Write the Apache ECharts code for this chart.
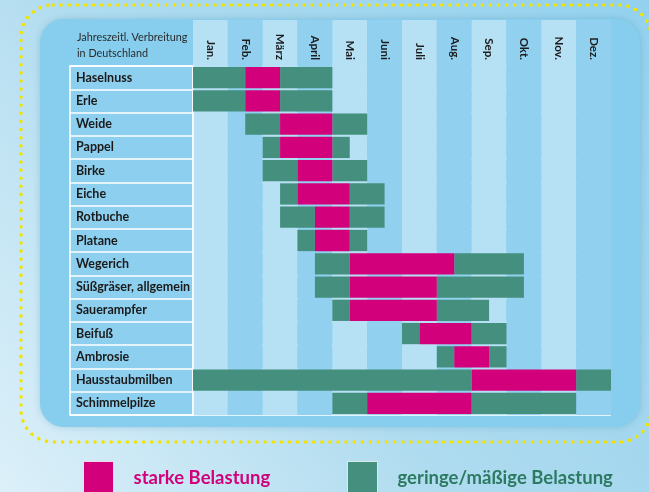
<!DOCTYPE html>
<html>
<head>
<meta charset="utf-8">
<script src="https://cdn.jsdelivr.net/npm/echarts@6/dist/echarts.min.js"></script>
<style>
  html, body { margin: 0; padding: 0; }
  #chart { width: 649px; height: 492px; }
</style>
</head>
<body>
<div id="chart"></div>
<script>
  const months = ['Jan.', 'Feb.', 'März', 'April', 'Mai', 'Juni', 'Juli', 'Aug.', 'Sep.', 'Okt.', 'Nov.', 'Dez.']
  const plants = ['Haselnuss', 'Erle', 'Weide', 'Pappel', 'Birke', 'Eiche', 'Rotbuche', 'Platane', 'Wegerich',
    'Süßgräser, allgemein', 'Sauerampfer', 'Beifuß', 'Ambrosie', 'Hausstaubmilben', 'Schimmelpilze']
  // Halbmonate: 0 = Anfang Jan., 24 = Ende Dez.
  const mildStart = [0, 0, 3, 4, 4, 5, 5, 6, 7, 7, 8, 12, 14, 0, 8]
  const strongStart = [3, 3, 5, 5, 6, 6, 7, 7, 9, 9, 9, 13, 15, 16, 10]
  const strongEnd = [5, 5, 8, 8, 8, 9, 9, 9, 15, 14, 14, 16, 17, 22, 16]
  const mildEnd = [8, 8, 10, 9, 10, 11, 11, 10, 19, 19, 17, 18, 18, 24, 22]

  const PINK = '#d2007b'
  const GREEN = '#458f7e'
  const FONT = 'Lato'
  const bands = ['#b6e1f5', '#91d1ef']

  const mildData = []
  const strongData = []
  plants.forEach(function (p, i) {
    if (strongStart[i] > mildStart[i]) mildData.push([i, mildStart[i], strongStart[i]])
    if (mildEnd[i] > strongEnd[i]) mildData.push([i, strongEnd[i], mildEnd[i]])
    strongData.push([i, strongStart[i], strongEnd[i]])
  })

  function renderSpan(params, api) {
    const row = api.value(0)
    const a = api.coord([api.value(1), row])
    const b = api.coord([api.value(2), row])
    const h = api.size([0, 1])[1]
    return {
      type: 'rect',
      shape: { x: a[0], y: a[1] - h / 2 + 1, width: b[0] - a[0], height: h - 2 },
      style: api.style()
    }
  }

  const legendText = { fontFamily: FONT, fontSize: 18.5, fontWeight: 'bold', padding: [3, 0, 0, 15] }

  const chart = echarts.init(document.getElementById('chart'))
  const option = {
    backgroundColor: {
      type: 'linear', x: 0, y: 1, x2: 1, y2: 0,
      colorStops: [
        { offset: 0, color: '#dcf0f9' },
        { offset: 0.45, color: '#aedbef' },
        { offset: 1, color: '#93d1ee' }
      ]
    },
    animation: false,
    textStyle: { fontFamily: FONT },
    title: {
      text: 'Jahreszeitl. Verbreitung\nin Deutschland',
      left: 77,
      top: 30,
      padding: 0,
      textStyle: { fontFamily: FONT, fontSize: 10.8, fontWeight: 'normal', color: '#2b2b2b', lineHeight: 16 }
    },
    graphic: [
      {
        type: 'rect', z: -10, silent: true,
        shape: { x: 40, y: 19, width: 600, height: 408, r: 24 },
        style: { fill: '#86cdee', shadowColor: 'rgba(40,110,150,0.25)', shadowBlur: 6 }
      },
      {
        type: 'rect', z: -9, silent: true,
        shape: { x: 21, y: 5, width: 630, height: 437, r: 32 },
        style: { fill: null, stroke: '#f2e300', lineWidth: 3.5, lineDash: [0.1, 8], lineCap: 'round' }
      }
    ],
    legend: [
      {
        left: 83, top: 461, padding: 0, itemWidth: 30, itemHeight: 33, icon: 'rect', selectedMode: false,
        data: [{ name: 'starke Belastung', textStyle: { color: PINK } }],
        itemStyle: { borderColor: 'rgba(255,255,255,0.7)', borderWidth: 1 },
        textStyle: legendText
      },
      {
        left: 347, top: 461, padding: 0, itemWidth: 30, itemHeight: 33, icon: 'rect', selectedMode: false,
        data: [{ name: 'geringe/mäßige Belastung', textStyle: { color: '#2c7a62' } }],
        itemStyle: { borderColor: 'rgba(255,255,255,0.7)', borderWidth: 1 },
        textStyle: legendText
      }
    ],
    grid: [
      { left: 193, right: 38, top: 66, bottom: 77 },
      { left: 193, right: 38, top: 20, height: 46 },
      { left: 70, width: 123, top: 66, bottom: 77, show: true, backgroundColor: 'rgba(255,255,255,0.06)', borderColor: '#ffffff', borderWidth: 1.5 }
    ],
    xAxis: [
      { gridIndex: 0, type: 'value', min: 0, max: 24, show: false },
      {
        gridIndex: 0, type: 'category', data: months,
        axisLine: { show: false }, axisTick: { show: false }, axisLabel: { show: false },
        splitArea: { show: true, interval: 0, areaStyle: { color: bands } }
      },
      {
        gridIndex: 1, type: 'category', data: months,
        axisLine: { show: false }, axisTick: { show: false }, axisLabel: { show: false },
        splitArea: { show: true, interval: 0, areaStyle: { color: bands } }
      },
      {
        gridIndex: 0, type: 'category', data: months, position: 'top', z: 5,
        axisLine: { show: false }, axisTick: { show: false },
        axisLabel: { interval: 0, rotate: 90, margin: 6, fontFamily: FONT, fontSize: 11.5, fontWeight: 'bold', color: '#1c1c1c' }
      },
      { gridIndex: 2, type: 'value', show: false }
    ],
    yAxis: [
      {
        gridIndex: 0, type: 'category', data: plants, inverse: true,
        axisLine: { show: true, lineStyle: { color: '#ffffff', width: 1.5 } },
        axisTick: { show: false }, axisLabel: { show: false },
        splitLine: { show: true, interval: 0, lineStyle: { color: '#ffffff', width: 1.5 } }
      },
      { gridIndex: 1, type: 'value', show: false },
      {
        gridIndex: 2, type: 'category', data: plants, inverse: true,
        axisLine: { show: false }, axisTick: { show: false },
        axisLabel: { inside: true, interval: 0, margin: 6, fontFamily: FONT, fontSize: 12.5, fontWeight: 'bold', color: '#1a1a1a' },
        splitLine: { show: true, interval: 0, lineStyle: { color: '#ffffff', width: 1.5 } }
      }
    ],
    series: [
      {
        name: 'geringe/mäßige Belastung', type: 'custom', xAxisIndex: 0, yAxisIndex: 0,
        renderItem: renderSpan, encode: { x: [1, 2], y: 0 },
        itemStyle: { color: GREEN }, data: mildData
      },
      {
        name: 'starke Belastung', type: 'custom', xAxisIndex: 0, yAxisIndex: 0,
        renderItem: renderSpan, encode: { x: [1, 2], y: 0 },
        itemStyle: { color: PINK }, data: strongData
      }
    ]
  }
  chart.setOption(option)
</script>
</body>
</html>
